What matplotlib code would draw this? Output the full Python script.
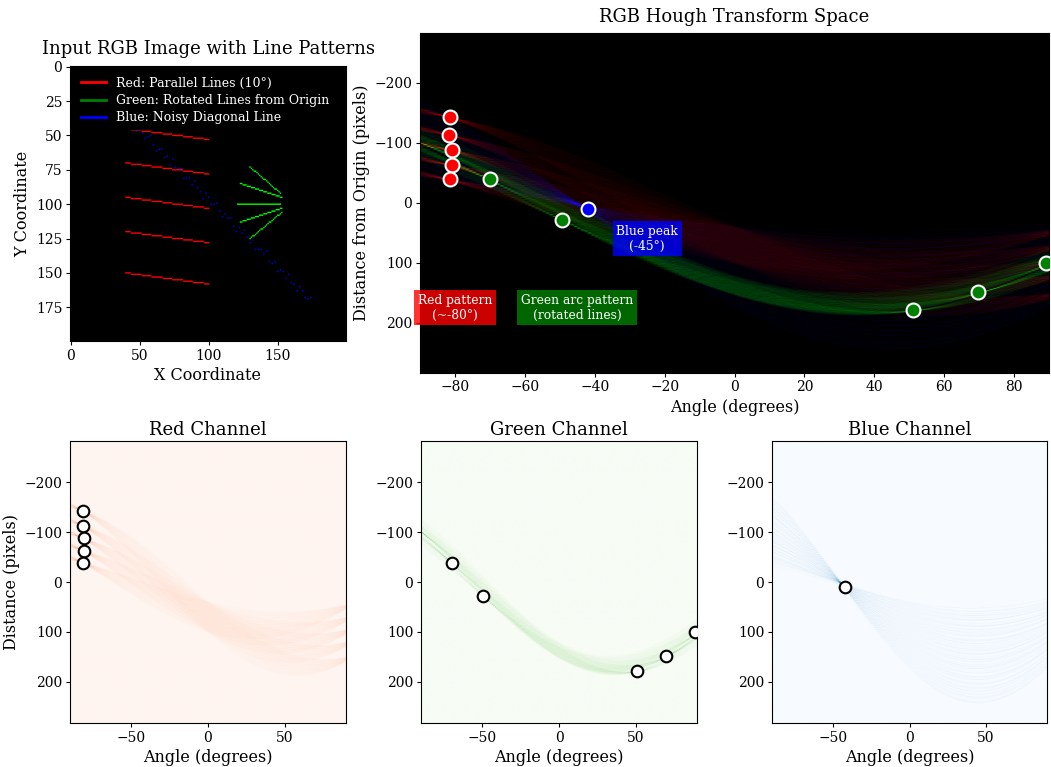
import numpy as np
import matplotlib
matplotlib.use("Agg")
import matplotlib.pyplot as plt
from matplotlib.lines import Line2D

plt.rcParams['font.family'] = ['DejaVu Serif']
plt.rcParams['xtick.major.size'] = 3
plt.rcParams['ytick.major.size'] = 3
plt.rcParams['xtick.major.pad'] = 2.5
plt.rcParams['ytick.major.pad'] = 2.5
plt.rcParams['axes.labelpad'] = 3

# ---------------- data ----------------
IMG_SIZE = 200
# red: five parallel segments (x0, y0, x1, y1)
red_x0 = [40, 40, 40, 40, 40]
red_y0 = [45, 70, 95, 120, 150]
red_x1 = [100, 100, 100, 100, 100]
red_y1 = [53, 78, 103, 128, 158]
# green: rotated segments
green_x0 = [130, 123, 121, 123, 130]
green_y0 = [73, 85, 100, 113, 125]
green_x1 = [152, 153, 152, 153, 153]
green_y1 = [92, 95, 100, 103, 106]
# blue: noisy diagonal points
blue_x = [40, 42, 44, 46, 48, 50, 52, 54, 56, 58, 60, 62, 64, 66, 68, 70, 72, 74, 76, 78,
          80, 82, 84, 86, 88, 90, 92, 94, 96, 98, 100, 102, 104, 106, 108, 110, 112, 114, 116, 118,
          120, 122, 124, 126, 128, 130, 132, 134, 136, 138, 140, 142, 144, 146, 148, 150, 152, 154, 156, 158,
          160, 162, 164, 166, 168, 170, 172, 174]
blue_y = [33, 40, 39, 43, 47, 44, 48, 52, 51, 50, 57, 61, 60, 60, 66, 65, 72, 67, 73, 74,
          74, 81, 81, 81, 86, 83, 88, 91, 96, 92, 95, 100, 100, 99, 105, 109, 107, 110, 110, 116,
          120, 117, 121, 119, 124, 128, 126, 133, 133, 133, 136, 134, 142, 143, 142, 149, 148, 149, 154, 151,
          157, 158, 163, 160, 163, 168, 169, 168]

# detected peaks (angle deg, rho px)
red_peak_theta = [-81.5, -81.8, -80.8, -80.8, -81.4]
red_peak_rho = [-142, -113, -88, -63, -39]
green_peak_theta = [-70, -49.5, 51, 69.6, 89]
green_peak_rho = [-39, 28, 178, 148, 101]
blue_peak_theta = [-42]
blue_peak_rho = [11]

legend_labels = ['Red: Parallel Lines (10°)', 'Green: Rotated Lines from Origin',
                 'Blue: Noisy Diagonal Line']

# ---------------- build image ----------------
img = np.zeros((IMG_SIZE, IMG_SIZE, 3))


def draw_seg(ch, x0, y0, x1, y1):
    n = int(max(abs(x1 - x0), abs(y1 - y0))) + 1
    xs = np.round(np.linspace(x0, x1, n)).astype(int)
    ys = np.round(np.linspace(y0, y1, n)).astype(int)
    img[ys, xs, ch] = 1.0


for a, b, c, d in zip(red_x0, red_y0, red_x1, red_y1):
    draw_seg(0, a, b, c, d)
for a, b, c, d in zip(green_x0, green_y0, green_x1, green_y1):
    draw_seg(1, a, b, c, d)
img[np.array(blue_y), np.array(blue_x), 2] = 1.0

# ---------------- hough ----------------
diag = int(np.ceil(np.hypot(IMG_SIZE, IMG_SIZE)))
thetas = np.deg2rad(np.arange(-90, 90))
cos_t, sin_t = np.cos(thetas), np.sin(thetas)


def hough(channel):
    acc = np.zeros((2 * diag, len(thetas)))
    ys, xs = np.nonzero(channel)
    rho = np.round(xs[:, None] * cos_t[None, :] + ys[:, None] * sin_t[None, :]).astype(int) + diag
    cols = np.broadcast_to(np.arange(len(thetas)), rho.shape)
    np.add.at(acc, (rho.ravel(), cols.ravel()), 1)
    return acc


acc_r = hough(img[:, :, 0])
acc_g = hough(img[:, :, 1])
acc_b = hough(img[:, :, 2])


def norm(a, gain):
    return np.clip(a / a.max() * gain, 0, 1)


rgb_h = np.dstack([norm(acc_r, 1.6), norm(acc_g, 1.4), norm(acc_b, 1.5)])

extent = [-90, 90, diag, -diag]

# ---------------- figure ----------------
fig = plt.figure(figsize=(10.51, 7.67), dpi=100)
W, H = 1051, 767


def ax_px(l, t, r, b):
    return fig.add_axes([l / W, 1 - b / H, (r - l) / W, (b - t) / H])


ax0 = ax_px(70, 66, 346, 341)
ax0.imshow(img, aspect='auto')
ax0.set_title('Input RGB Image with Line Patterns', fontsize=13, pad=9)
ax0.set_xlabel('X Coordinate', fontsize=11.5)
ax0.set_ylabel('Y Coordinate', fontsize=11.5)
handles = [Line2D([], [], color=c, lw=2) for c in ['red', 'green', 'blue']]
leg = ax0.legend(handles, legend_labels, loc='upper left', fontsize=9, labelspacing=0.35,
                 borderpad=0.35, facecolor='black', edgecolor='black', labelcolor='white',
                 framealpha=1)

ax1 = ax_px(420, 32.7, 1049, 372.7)
ax1.imshow(rgb_h, extent=extent, aspect='auto')
ax1.set_title('RGB Hough Transform Space', fontsize=13, pad=7.5)
ax1.set_xlabel('Angle (degrees)', fontsize=11.5)
ax1.set_ylabel('Distance from Origin (pixels)', fontsize=11.5)
ax1.scatter(red_peak_theta, red_peak_rho, s=100, c='red', edgecolors='white', linewidths=1.5, zorder=3)
ax1.scatter(green_peak_theta, green_peak_rho, s=100, c='green', edgecolors='white', linewidths=1.5, zorder=3)
ax1.scatter(blue_peak_theta, blue_peak_rho, s=100, c='blue', edgecolors='white', linewidths=1.5, zorder=3)
ax1.set_xlim(-90, 90)
ax1.set_ylim(diag, -diag)
box_kw = dict(boxstyle='square,pad=0.3', edgecolor='none', alpha=0.8)
ax1.text(-80, 175, 'Red pattern\n(~-80°)', color='white', fontsize=8.8, ha='center', va='center',
         bbox=dict(facecolor='red', **box_kw))
ax1.text(-45, 175, 'Green arc pattern\n(rotated lines)', color='white', fontsize=8.8, ha='center',
         va='center', bbox=dict(facecolor='green', **box_kw))
ax1.text(-25, 60, 'Blue peak\n(-45°)', color='white', fontsize=8.8, ha='center', va='center',
         bbox=dict(facecolor='blue', **box_kw))

bottom = [
    (70, 346, acc_r, 'Reds', 'Red Channel', red_peak_theta, red_peak_rho),
    (421, 697, acc_g, 'Greens', 'Green Channel', green_peak_theta, green_peak_rho),
    (772, 1047, acc_b, 'Blues', 'Blue Channel', blue_peak_theta, blue_peak_rho),
]
for i, (l, r, acc, cmap, title, pt, pr) in enumerate(bottom):
    ax = ax_px(l, 441, r, 723)
    ax.imshow(acc, extent=extent, aspect='auto', cmap=cmap)
    ax.scatter(pt, pr, s=70, facecolors='white', edgecolors='black', linewidths=1.5, zorder=3)
    ax.set_xlim(-90, 90)
    ax.set_ylim(diag, -diag)
    ax.set_title(title, fontsize=13, pad=4.5)
    ax.set_xlabel('Angle (degrees)', fontsize=11.5)
    if i == 0:
        ax.set_ylabel('Distance (pixels)', fontsize=11.5)

fig.savefig('out.png', dpi=100)
